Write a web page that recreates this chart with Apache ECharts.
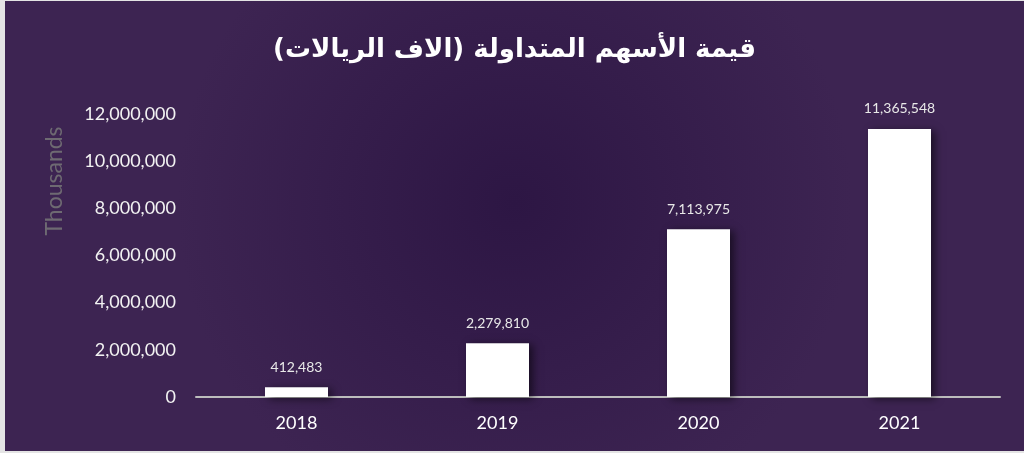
<!DOCTYPE html>
<html>
<head>
<meta charset="utf-8">
<script src="https://cdn.jsdelivr.net/npm/echarts@6/dist/echarts.min.js"></script>
<style>
  html, body { margin: 0; padding: 0; background: #e4e4e4; }
  #main { position: absolute; left: 5px; top: 1px; width: 1019px; height: 450px; }
</style>
</head>
<body>
<div id="main"></div>
<script>
// data
const years = ['2018', '2019', '2020', '2021']
const tradedValue = [412483, 2279810, 7113975, 11365548]
const titleText = 'قيمة الأسهم المتداولة (الاف الريالات)'
const unitLabel = 'Thousands'

const chart = echarts.init(document.getElementById('main'))

const fmt = v => Number(v).toLocaleString('en-US')

chart.setOption({
  backgroundColor: {
    type: 'radial', x: 0.5, y: 0.45, r: 0.75,
    colorStops: [
      { offset: 0, color: '#2d1644' },
      { offset: 1, color: '#3d2452' }
    ]
  },
  animation: false,
  title: {
    text: titleText,
    left: 'center',
    top: 31,
    textStyle: {
      color: '#ffffff',
      fontFamily: 'DejaVu Sans',
      fontWeight: 'bold',
      fontSize: 26
    }
  },
  graphic: [{
    type: 'text',
    x: 50,
    y: 180,
    rotation: Math.PI / 2,
    style: {
      text: unitLabel,
      fill: '#6e6a72',
      font: '23px Lato',
      textAlign: 'center',
      textVerticalAlign: 'middle'
    }
  }],
  grid: { left: 191, right: 24, top: 113, bottom: 54 },
  xAxis: {
    type: 'category',
    data: years,
    axisLine: { lineStyle: { color: '#bdbdbd', width: 2 } },
    axisTick: { show: false },
    axisLabel: { color: '#ffffff', fontSize: 18, fontFamily: 'Lato', margin: 17 }
  },
  yAxis: {
    type: 'value',
    min: 0,
    max: 12000000,
    interval: 2000000,
    splitLine: { show: false },
    axisLine: { show: false },
    axisTick: { show: false },
    axisLabel: {
      color: '#f2f2f2', fontSize: 18, fontFamily: 'Lato', margin: 20,
      formatter: fmt
    }
  },
  series: [{
    type: 'bar',
    data: tradedValue,
    barWidth: 63,
    itemStyle: {
      color: '#ffffff',
      shadowColor: 'rgba(0,0,0,0.55)',
      shadowBlur: 8,
      shadowOffsetX: 4,
      shadowOffsetY: 2
    },
    label: {
      show: true,
      position: 'top',
      distance: 13,
      color: '#e8e8e8',
      fontSize: 14,
      fontFamily: 'Lato',
      formatter: p => fmt(p.value)
    }
  }]
})
</script>
</body>
</html>
